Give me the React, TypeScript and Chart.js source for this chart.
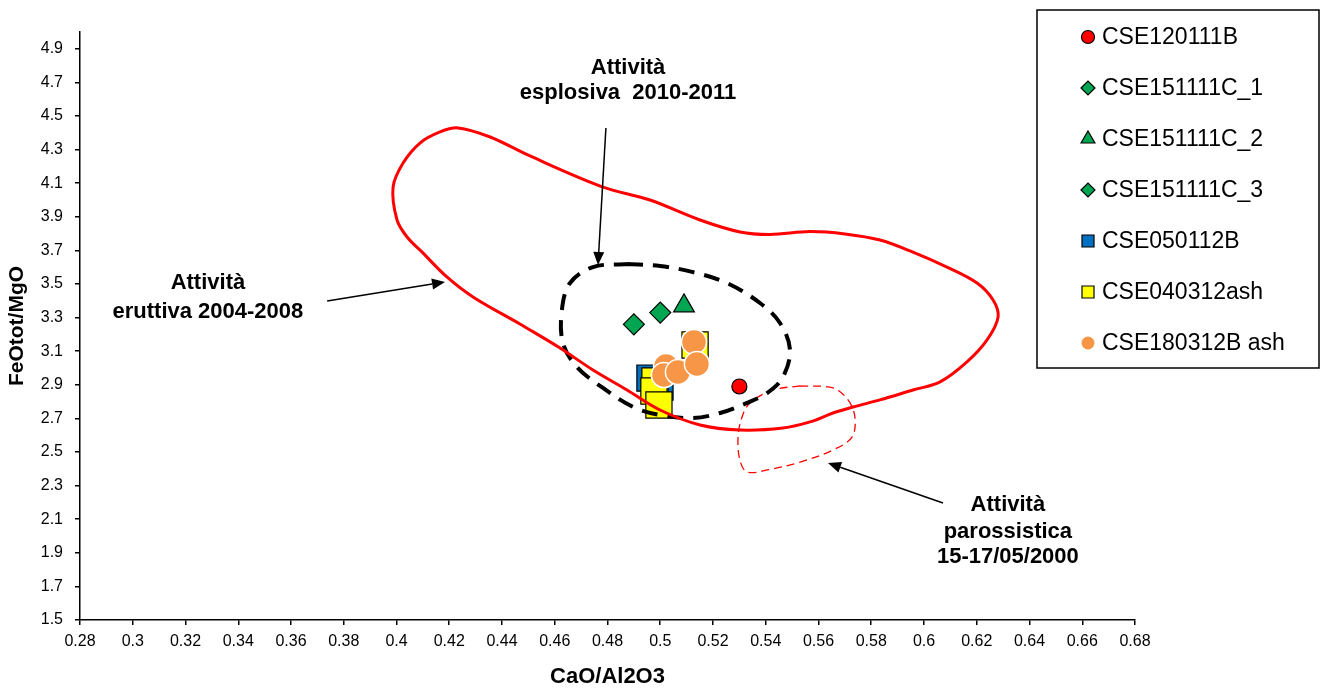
import React, { useEffect, useRef } from "react";
import { Chart, registerables } from "chart.js";

Chart.register(...registerables);

const FONT = "'Liberation Sans', Arial, Helvetica, sans-serif";

const xTicks = [0.28, 0.3, 0.32, 0.34, 0.36, 0.38, 0.4, 0.42, 0.44, 0.46, 0.48, 0.5, 0.52, 0.54, 0.56, 0.58, 0.6, 0.62, 0.64, 0.66, 0.68];
const yTicks = [1.5, 1.7, 1.9, 2.1, 2.3, 2.5, 2.7, 2.9, 3.1, 3.3, 3.5, 3.7, 3.9, 4.1, 4.3, 4.5, 4.7, 4.9];

const seriesNames = ["CSE120111B", "CSE151111C_1", "CSE151111C_2", "CSE151111C_3", "CSE050112B", "CSE040312ash", "CSE180312B ash"];

const cse120111B = [{ x: 0.53, y: 2.89 }];
const cse151111C1 = [{ x: 0.49, y: 3.26 }];
const cse151111C2 = [{ x: 0.509, y: 3.37 }];
const cse151111C3 = [{ x: 0.5, y: 3.33 }];
const cse050112B = [{ x: 0.4961, y: 2.94 }, { x: 0.4999, y: 2.887 }];
const cse040312ash = [{ x: 0.5132, y: 3.137 }, { x: 0.498, y: 2.923 }, { x: 0.4976, y: 2.863 }, { x: 0.4995, y: 2.78 }];
const cse180312Bash = [{ x: 0.5128, y: 3.155 }, { x: 0.5022, y: 3.012 }, { x: 0.5014, y: 2.958 }, { x: 0.5067, y: 2.976 }, { x: 0.5139, y: 3.024 }];

// Field of "Attività eruttiva 2004-2008" (closed curve)
const eruttivaField = [
  { x: 0.4468, y: 3.262 }, { x: 0.462, y: 3.119 }, { x: 0.4745, y: 2.988 }, { x: 0.4874, y: 2.869 },
  { x: 0.4999, y: 2.75 }, { x: 0.5151, y: 2.661 }, { x: 0.5302, y: 2.631 }, { x: 0.5465, y: 2.643 },
  { x: 0.5568, y: 2.679 }, { x: 0.5655, y: 2.732 }, { x: 0.5731, y: 2.768 }, { x: 0.5833, y: 2.81 },
  { x: 0.5958, y: 2.869 }, { x: 0.6061, y: 2.917 }, { x: 0.6163, y: 3.036 }, { x: 0.6239, y: 3.167 },
  { x: 0.6281, y: 3.304 }, { x: 0.6262, y: 3.405 }, { x: 0.6201, y: 3.506 }, { x: 0.6087, y: 3.601 },
  { x: 0.5958, y: 3.69 }, { x: 0.5833, y: 3.762 }, { x: 0.57, y: 3.798 }, { x: 0.5568, y: 3.812 },
  { x: 0.5416, y: 3.795 }, { x: 0.5302, y: 3.81 }, { x: 0.5151, y: 3.881 }, { x: 0.4961, y: 4.0 },
  { x: 0.4783, y: 4.077 }, { x: 0.4506, y: 4.262 }, { x: 0.4355, y: 4.375 }, { x: 0.4233, y: 4.429 },
  { x: 0.4165, y: 4.405 }, { x: 0.4089, y: 4.339 }, { x: 0.4025, y: 4.22 }, { x: 0.3987, y: 4.077 },
  { x: 0.4002, y: 3.881 }, { x: 0.404, y: 3.78 }, { x: 0.41, y: 3.685 }, { x: 0.4191, y: 3.542 },
  { x: 0.429, y: 3.423 }, { x: 0.4468, y: 3.262 },
];

// Field of "Attività esplosiva 2010-2011" (dashed ellipse)
const esplosivaField = [
  { x: 0.4874, y: 3.619 }, { x: 0.4999, y: 3.607 }, { x: 0.5124, y: 3.571 }, { x: 0.5253, y: 3.506 },
  { x: 0.5378, y: 3.387 }, { x: 0.5454, y: 3.268 }, { x: 0.5492, y: 3.107 }, { x: 0.5465, y: 2.946 },
  { x: 0.5405, y: 2.851 }, { x: 0.5329, y: 2.792 }, { x: 0.5227, y: 2.732 }, { x: 0.5124, y: 2.702 },
  { x: 0.4999, y: 2.72 }, { x: 0.4897, y: 2.768 }, { x: 0.4783, y: 2.881 }, { x: 0.4684, y: 3.006 },
  { x: 0.4631, y: 3.149 }, { x: 0.4627, y: 3.345 }, { x: 0.4658, y: 3.506 }, { x: 0.4745, y: 3.601 },
  { x: 0.4874, y: 3.619 },
];

// Field of "Attività parossistica 15-17/05/2000" (thin dashed)
const parossisticaField = [
  { x: 0.553, y: 2.893 }, { x: 0.5655, y: 2.881 }, { x: 0.5712, y: 2.81 }, { x: 0.5738, y: 2.708 },
  { x: 0.5727, y: 2.589 }, { x: 0.5655, y: 2.512 }, { x: 0.553, y: 2.44 }, { x: 0.5405, y: 2.393 },
  { x: 0.5329, y: 2.381 }, { x: 0.5302, y: 2.452 }, { x: 0.5295, y: 2.589 }, { x: 0.531, y: 2.708 },
  { x: 0.534, y: 2.792 }, { x: 0.5427, y: 2.869 }, { x: 0.553, y: 2.893 },
];

const labelLines = [
  { text: "Attività", x: 0.3285, y: 3.506 },
  { text: "eruttiva 2004-2008", x: 0.3285, y: 3.333 },
  { text: "Attività", x: 0.4878, y: 4.786 },
  { text: "esplosiva  2010-2011", x: 0.4878, y: 4.637 },
  { text: "Attività", x: 0.6318, y: 2.185 },
  { text: "parossistica", x: 0.6318, y: 2.024 },
  { text: "15-17/05/2000", x: 0.6318, y: 1.875 },
];

const arrowStarts = [{ x: 0.4794, y: 4.429 }, { x: 0.3737, y: 3.399 }, { x: 0.6072, y: 2.196 }];
const arrowTips = [{ x: 0.4764, y: 3.613 }, { x: 0.4184, y: 3.512 }, { x: 0.5636, y: 2.435 }];

type Marker = { style: string; fill: string; stroke: string; lw: number; r: number; lr: number; order: number };
const markerStyles: Marker[] = [
  { style: "circle", fill: "#FF0000", stroke: "#000000", lw: 1.2, r: 7.5, lr: 6.5, order: 2 },
  { style: "rectRot", fill: "#00A651", stroke: "#000000", lw: 1.2, r: 10.5, lr: 7, order: 3 },
  { style: "triangle", fill: "#00A651", stroke: "#000000", lw: 1.2, r: 12, lr: 8, order: 3 },
  { style: "rectRot", fill: "#00A651", stroke: "#000000", lw: 1.2, r: 10.5, lr: 7, order: 3 },
  { style: "rect", fill: "#0070C0", stroke: "#000000", lw: 1.2, r: 18.5, lr: 8.5, order: 9 },
  { style: "rect", fill: "#FFFF00", stroke: "#000000", lw: 1.2, r: 18.5, lr: 8.5, order: 8 },
  { style: "circle", fill: "#F79646", stroke: "#FFFFFF", lw: 1.5, r: 12.5, lr: 6.5, order: 1 },
];
const seriesData = [cse120111B, cse151111C1, cse151111C2, cse151111C3, cse050112B, cse040312ash, cse180312Bash];

function drawLegendMarker(ctx: CanvasRenderingContext2D, m: Marker, x: number, y: number) {
  const r = m.lr;
  ctx.beginPath();
  if (m.style === "circle") {
    ctx.arc(x, y, r, 0, Math.PI * 2);
  } else if (m.style === "rectRot") {
    ctx.moveTo(x - r, y);
    ctx.lineTo(x, y - r);
    ctx.lineTo(x + r, y);
    ctx.lineTo(x, y + r);
    ctx.closePath();
  } else if (m.style === "triangle") {
    ctx.moveTo(x, y - r);
    ctx.lineTo(x + r * 0.866, y + r / 2);
    ctx.lineTo(x - r * 0.866, y + r / 2);
    ctx.closePath();
  } else {
    const s = r * Math.SQRT1_2;
    ctx.rect(x - s, y - s, 2 * s, 2 * s);
  }
  ctx.fillStyle = m.fill;
  ctx.fill();
  if (m.stroke !== "#FFFFFF") {
    ctx.lineWidth = 1.2;
    ctx.strokeStyle = m.stroke;
    ctx.stroke();
  }
}

const overlayPlugin = {
  id: "overlay",
  afterDraw(chart: any) {
    const ctx: CanvasRenderingContext2D = chart.ctx;
    const xs = chart.scales.x;
    const ys = chart.scales.y;
    ctx.save();

    // arrows
    ctx.strokeStyle = "#000";
    ctx.fillStyle = "#000";
    ctx.lineWidth = 1.5;
    arrowStarts.forEach((s, i) => {
      const t = arrowTips[i];
      const x1 = xs.getPixelForValue(s.x), y1 = ys.getPixelForValue(s.y);
      const x2 = xs.getPixelForValue(t.x), y2 = ys.getPixelForValue(t.y);
      const ang = Math.atan2(y2 - y1, x2 - x1);
      const hl = 13, hw = 5.5;
      const bx = x2 - Math.cos(ang) * hl, by = y2 - Math.sin(ang) * hl;
      ctx.beginPath();
      ctx.moveTo(x1, y1);
      ctx.lineTo(bx, by);
      ctx.stroke();
      ctx.beginPath();
      ctx.moveTo(x2, y2);
      ctx.lineTo(bx + Math.sin(ang) * hw, by - Math.cos(ang) * hw);
      ctx.lineTo(bx - Math.sin(ang) * hw, by + Math.cos(ang) * hw);
      ctx.closePath();
      ctx.fill();
    });

    // labels
    ctx.font = `bold 22px ${FONT}`;
    ctx.textAlign = "center";
    ctx.textBaseline = "middle";
    ctx.fillStyle = "#000";
    labelLines.forEach((l) => {
      ctx.fillText(l.text, xs.getPixelForValue(l.x), ys.getPixelForValue(l.y));
    });

    // legend box
    const bx = 1037, by = 10, bw = chart.width - 1 - bx, bh = 358;
    ctx.fillStyle = "#FFFFFF";
    ctx.fillRect(bx, by, bw, bh);
    ctx.strokeStyle = "#000";
    ctx.lineWidth = 1.5;
    ctx.strokeRect(bx, by, bw, bh);
    ctx.font = `23px ${FONT}`;
    ctx.textAlign = "left";
    ctx.textBaseline = "middle";
    seriesNames.forEach((name, i) => {
      const y = 37 + i * 51;
      drawLegendMarker(ctx, markerStyles[i], 1088, y);
      ctx.fillStyle = "#000";
      ctx.fillText(name, 1102, y + 1);
    });
    ctx.restore();
  },
};

export default function App() {
  const ref = useRef<HTMLCanvasElement | null>(null);

  useEffect(() => {
    if (!ref.current) return;
    const pointSets = seriesNames.map((name, i) => {
      const m = markerStyles[i];
      return {
        label: name,
        data: seriesData[i],
        pointStyle: m.style,
        pointRadius: m.r,
        pointBackgroundColor: m.fill,
        pointBorderColor: m.stroke,
        pointBorderWidth: m.lw,
        backgroundColor: m.fill,
        borderColor: m.stroke,
        showLine: false,
        order: m.order,
      };
    });
    const fieldSets = [
      { label: "eruttiva", data: eruttivaField, borderColor: "#FF0000", borderWidth: 3, borderDash: [], order: 4 },
      { label: "esplosiva", data: esplosivaField, borderColor: "#000000", borderWidth: 4, borderDash: [16, 10], order: 5 },
      { label: "parossistica", data: parossisticaField, borderColor: "#FF0000", borderWidth: 1.3, borderDash: [8, 5], order: 6 },
    ].map((d) => ({ ...d, showLine: true, pointRadius: 0, tension: 0.35, fill: false, backgroundColor: "transparent" }));

    const chart = new Chart(ref.current, {
      type: "scatter",
      data: { datasets: [...pointSets, ...fieldSets] as any },
      options: {
        animation: false,
        responsive: false,
        devicePixelRatio: 1,
        events: [],
        layout: { padding: { left: 0, top: 32, right: 185, bottom: 0 } },
        plugins: { legend: { display: false }, tooltip: { enabled: false } },
        scales: {
          x: {
            type: "linear",
            min: 0.28,
            max: 0.68,
            afterBuildTicks: (s: any) => { s.ticks = xTicks.map((v) => ({ value: v })); },
            afterFit: (s: any) => { s.height = 70; },
            ticks: { callback: (v: any) => String(v), font: { size: 16, family: FONT }, color: "#000", padding: 7, autoSkip: false, maxRotation: 0 },
            grid: { drawOnChartArea: false, drawTicks: true, tickLength: 5, color: "#000", lineWidth: 1.5 },
            border: { display: true, color: "#000", width: 1.5 },
            title: { display: true, text: "CaO/Al2O3", font: { size: 22, weight: "bold", family: FONT }, color: "#000", padding: { top: 0, bottom: 0 } },
          },
          y: {
            type: "linear",
            min: 1.5,
            max: 5.0,
            afterBuildTicks: (s: any) => { s.ticks = yTicks.map((v) => ({ value: v })); },
            afterFit: (s: any) => { s.width = 80; },
            ticks: { callback: (v: any) => String(v), font: { size: 16, family: FONT }, color: "#000", padding: 12, autoSkip: false },
            grid: { drawOnChartArea: false, drawTicks: true, tickLength: 5, color: "#000", lineWidth: 1.5 },
            border: { display: true, color: "#000", width: 1.5 },
            title: { display: true, text: "FeOtot/MgO", font: { size: 21, weight: "bold", family: FONT }, color: "#000", padding: { top: 5, bottom: 0 } },
          },
        },
      } as any,
      plugins: [overlayPlugin],
    });
    return () => chart.destroy();
  }, []);

  return (
    <div style={{ position: "fixed", left: 0, top: 0, width: 1320, height: 690, background: "#fff" }}>
      <canvas ref={ref} width={1320} height={690} style={{ display: "block", width: 1320, height: 690 }} />
    </div>
  );
}
